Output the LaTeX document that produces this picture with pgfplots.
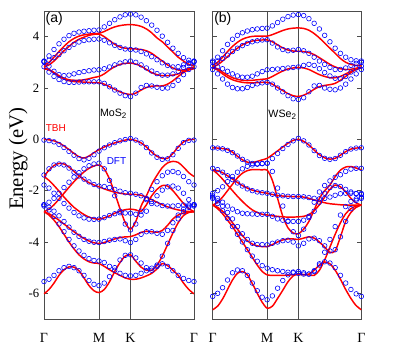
\documentclass[border=0pt]{standalone}
\usepackage{fontspec}
\setmainfont{Liberation Serif}
\setsansfont{Liberation Sans}
\usepackage{pgfplots}
\pgfplotsset{compat=1.18}
\usepackage{pgfplotstable}

% bands stored one per row (k-path coordinate u: Gamma=0, M=55, K=86.5, Gamma=150)
\pgfplotstableread{
name k0 k1 k2 k3 k4 k5 k6 k7 k8 k9 k10 k11 k12 k13 k14 k15 k16 k17 k18 k19 k20 k21 k22 k23 k24 k25 k26 k27 k28 k29
u 0 5 10 15 20 25 30 35 40 45 50 55 60.25 65.5 70.75 76 81.25 86.5 91.8 97.1 102.4 107.7 113 118.3 123.6 128.9 134.2 139.5 144.8 150
c1 2.75 2.70 2.60 2.45 2.35 2.28 2.25 2.24 2.23 2.22 2.21 2.20 2.15 2.05 1.95 1.85 1.78 1.75 1.80 1.92 2.02 2.07 2.08 2.08 2.15 2.28 2.45 2.60 2.70 2.75
c2 2.78 2.72 2.60 2.48 2.38 2.32 2.30 2.30 2.32 2.36 2.41 2.45 2.55 2.70 2.83 2.92 2.96 2.97 2.93 2.85 2.72 2.60 2.52 2.48 2.48 2.50 2.55 2.65 2.74 2.78
c3 2.82 2.90 3.05 3.25 3.45 3.62 3.78 3.90 3.98 4.05 4.09 4.10 4.00 3.85 3.70 3.60 3.55 3.53 3.52 3.50 3.45 3.35 3.20 3.05 2.90 2.78 2.70 2.70 2.76 2.82
c4 2.88 3.00 3.20 3.42 3.62 3.80 3.93 4.02 4.07 4.10 4.12 4.13 4.20 4.30 4.38 4.43 4.46 4.47 4.45 4.40 4.30 4.15 3.95 3.80 3.60 3.40 3.20 3.05 2.92 2.88
v1 0 -0.02 -0.06 -0.14 -0.26 -0.40 -0.55 -0.68 -0.73 -0.65 -0.52 -0.40 -0.30 -0.21 -0.14 -0.08 -0.03 0.00 -0.05 -0.14 -0.30 -0.50 -0.66 -0.74 -0.74 -0.55 -0.30 -0.10 -0.02 0
v2 -1.45 -1.20 -1.02 -0.94 -0.96 -1.08 -1.25 -1.42 -1.57 -1.69 -1.78 -1.85 -1.93 -2.00 -2.06 -2.10 -2.13 -2.14 -2.15 -2.18 -2.25 -2.35 -2.45 -2.55 -2.63 -2.70 -2.75 -2.79 -2.81 -2.82
v3 -2.82 -2.72 -2.55 -2.33 -2.10 -1.87 -1.65 -1.45 -1.27 -1.13 -1.04 -1.00 -1.15 -1.55 -2.10 -2.70 -3.25 -3.50 -3.20 -2.60 -2.20 -1.75 -1.40 -1.10 -0.92 -0.86 -0.90 -1.08 -1.30 -1.45
v4 -1.45 -1.60 -1.80 -2.02 -2.25 -2.46 -2.65 -2.80 -2.93 -3.03 -3.09 -3.11 -3.06 -2.98 -2.88 -2.80 -2.74 -2.72 -2.75 -2.80 -2.55 -2.20 -1.95 -1.80 -1.82 -2.00 -2.25 -2.50 -2.70 -2.82
v5 -2.82 -2.90 -3.02 -3.15 -3.30 -3.45 -3.60 -3.74 -3.86 -3.96 -4.03 -4.06 -4.02 -3.95 -3.88 -3.83 -3.80 -3.79 -3.72 -3.63 -3.58 -3.60 -3.62 -3.55 -3.35 -3.10 -2.95 -2.87 -2.83 -2.82
v6 -2.82 -2.95 -3.15 -3.40 -3.70 -4.00 -4.27 -4.50 -4.66 -4.77 -4.82 -4.84 -4.95 -5.08 -5.20 -5.30 -5.40 -5.45 -5.45 -5.40 -5.32 -5.22 -5.05 -4.84 -4.92 -5.10 -5.30 -5.60 -5.85 -6.02
v7 -6.02 -5.85 -5.60 -5.30 -5.08 -4.97 -4.98 -5.12 -5.40 -5.70 -5.90 -5.97 -5.85 -5.55 -5.15 -4.80 -4.55 -4.50 -4.75 -4.98 -5.10 -5.10 -4.90 -4.55 -4.10 -3.65 -3.25 -2.97 -2.85 -2.82
}\rawTA
\pgfplotstableread{
name k0 k1 k2 k3 k4 k5 k6 k7 k8 k9 k10 k11 k12 k13 k14 k15 k16 k17 k18 k19 k20 k21 k22 k23 k24 k25 k26 k27 k28 k29
u 0 5 10 15 20 25 30 35 40 45 50 55 60.25 65.5 70.75 76 81.25 86.5 91.8 97.1 102.4 107.7 113 118.3 123.6 128.9 134.2 139.5 144.8 150
c1 2.83 2.62 2.45 2.33 2.25 2.22 2.22 2.23 2.24 2.24 2.24 2.24 2.18 2.05 1.92 1.80 1.70 1.66 1.80 2.02 2.10 2.08 2.03 1.99 2.00 2.10 2.30 2.52 2.72 2.83
c2 3.02 2.85 2.65 2.52 2.48 2.50 2.55 2.60 2.64 2.67 2.70 2.71 2.75 2.82 2.90 2.97 3.02 3.05 3.00 2.90 2.78 2.66 2.56 2.50 2.50 2.55 2.65 2.80 2.95 3.02
c3 3.02 3.08 3.18 3.30 3.45 3.58 3.70 3.79 3.85 3.88 3.90 3.91 3.86 3.76 3.66 3.58 3.52 3.50 3.48 3.42 3.33 3.22 3.10 2.98 2.88 2.82 2.83 2.90 2.98 3.02
c4 3.05 3.25 3.50 3.72 3.90 4.04 4.13 4.18 4.21 4.23 4.25 4.26 4.38 4.52 4.66 4.77 4.85 4.88 4.85 4.76 4.62 4.45 4.25 4.02 3.78 3.55 3.35 3.18 3.08 3.05
v1 -0.03 -0.05 -0.10 -0.20 -0.32 -0.47 -0.62 -0.75 -0.80 -0.74 -0.60 -0.46 -0.33 -0.22 -0.13 -0.06 -0.01 0.03 -0.03 -0.14 -0.32 -0.53 -0.70 -0.78 -0.76 -0.60 -0.35 -0.13 -0.04 -0.03
v2 -1.39 -1.15 -1.00 -0.96 -1.00 -1.12 -1.28 -1.43 -1.55 -1.66 -1.76 -1.82 -1.84 -1.88 -1.95 -2.02 -2.08 -2.10 -2.14 -2.20 -2.30 -2.42 -2.52 -2.58 -2.60 -2.60 -2.58 -2.56 -2.55 -2.55
v3 -2.55 -2.45 -2.30 -2.10 -1.88 -1.67 -1.47 -1.30 -1.15 -1.03 -0.96 -0.93 -1.15 -1.60 -2.20 -2.80 -3.30 -3.53 -3.30 -2.80 -2.35 -1.95 -1.65 -1.42 -1.28 -1.25 -1.30 -1.45 -1.65 -1.78
v4 -1.78 -1.90 -2.10 -2.30 -2.50 -2.68 -2.85 -2.98 -3.06 -3.11 -3.12 -3.11 -3.05 -2.97 -2.90 -2.86 -2.87 -2.88 -2.92 -2.95 -2.80 -2.50 -2.20 -1.98 -1.85 -1.82 -1.90 -2.10 -2.35 -2.55
v5 -2.55 -2.65 -2.80 -2.98 -3.20 -3.42 -3.62 -3.78 -3.90 -3.97 -4.01 -4.02 -3.98 -3.93 -3.90 -3.88 -3.95 -4.02 -3.90 -3.70 -3.60 -3.60 -3.66 -3.70 -3.55 -3.25 -2.95 -2.72 -2.60 -2.55
v6 -2.60 -2.75 -3.00 -3.30 -3.60 -3.90 -4.15 -4.35 -4.52 -4.65 -4.72 -4.74 -4.80 -4.95 -5.10 -5.22 -5.30 -5.32 -5.30 -5.22 -5.12 -5.02 -4.90 -4.85 -4.95 -5.12 -5.30 -5.42 -5.50 -5.54
v7 -5.54 -5.45 -5.30 -5.12 -5.00 -4.95 -5.00 -5.12 -5.30 -5.50 -5.65 -5.70 -5.60 -5.35 -5.00 -4.70 -4.52 -4.50 -4.62 -4.82 -5.00 -5.10 -4.95 -4.55 -4.05 -3.55 -3.10 -2.82 -2.65 -2.60
}\rawDA
\pgfplotstableread{
name k0 k1 k2 k3 k4 k5 k6 k7 k8 k9 k10 k11 k12 k13 k14 k15 k16 k17 k18 k19 k20 k21 k22 k23 k24 k25 k26 k27 k28 k29
u 0 5 10 15 20 25 30 35 40 45 50 55 60.25 65.5 70.75 76 81.25 86.5 91.8 97.1 102.4 107.7 113 118.3 123.6 128.9 134.2 139.5 144.8 150
c1 2.78 2.70 2.55 2.42 2.32 2.26 2.22 2.20 2.20 2.21 2.22 2.22 2.15 2.02 1.90 1.78 1.70 1.67 1.72 1.82 1.95 2.05 2.10 2.13 2.18 2.30 2.45 2.60 2.72 2.78
c2 2.80 2.75 2.62 2.50 2.40 2.34 2.30 2.29 2.30 2.32 2.34 2.36 2.45 2.56 2.66 2.74 2.78 2.80 2.78 2.72 2.62 2.52 2.45 2.40 2.40 2.45 2.55 2.65 2.74 2.80
c3 2.82 2.90 3.05 3.22 3.40 3.55 3.68 3.77 3.83 3.86 3.87 3.87 3.80 3.68 3.56 3.48 3.44 3.43 3.42 3.38 3.30 3.18 3.05 2.92 2.82 2.75 2.72 2.73 2.77 2.82
c4 2.88 3.00 3.20 3.42 3.62 3.78 3.90 3.97 4.01 4.02 4.02 4.02 4.08 4.16 4.24 4.30 4.33 4.34 4.32 4.25 4.12 3.95 3.75 3.55 3.35 3.15 3.00 2.92 2.88 2.88
v1 -0.33 -0.34 -0.36 -0.40 -0.50 -0.66 -0.80 -0.89 -0.90 -0.86 -0.80 -0.74 -0.60 -0.45 -0.30 -0.15 -0.04 0.00 -0.08 -0.22 -0.42 -0.60 -0.72 -0.77 -0.74 -0.62 -0.48 -0.38 -0.34 -0.33
v2 -1.19 -1.22 -1.30 -1.42 -1.55 -1.68 -1.80 -1.90 -1.98 -2.03 -2.07 -2.10 -2.15 -2.19 -2.21 -2.22 -2.23 -2.23 -2.25 -2.30 -2.36 -2.42 -2.47 -2.51 -2.53 -2.55 -2.56 -2.56 -2.56 -2.56
v3 -2.56 -2.45 -2.25 -2.00 -1.75 -1.50 -1.32 -1.22 -1.18 -1.18 -1.19 -1.20 -1.60 -2.30 -3.00 -3.45 -3.65 -3.68 -3.50 -3.20 -2.75 -2.30 -2.00 -1.78 -1.45 -1.20 -1.08 -1.06 -1.12 -1.19
v4 -1.19 -1.35 -1.55 -1.78 -2.00 -2.22 -2.42 -2.60 -2.75 -2.85 -2.92 -2.95 -2.98 -3.00 -3.02 -3.03 -3.03 -3.02 -3.00 -2.93 -2.78 -2.55 -2.25 -1.95 -1.78 -1.85 -2.05 -2.30 -2.48 -2.56
v5 -2.56 -2.65 -2.80 -3.00 -3.25 -3.50 -3.75 -3.95 -4.08 -4.15 -4.18 -4.18 -4.10 -4.00 -3.92 -3.88 -3.88 -3.90 -3.85 -3.80 -3.85 -4.00 -4.20 -4.40 -4.35 -3.80 -3.20 -2.85 -2.65 -2.56
v6 -2.56 -2.70 -2.90 -3.15 -3.40 -3.70 -4.00 -4.30 -4.60 -4.90 -5.15 -5.28 -5.30 -5.30 -5.30 -5.29 -5.28 -5.27 -5.27 -5.28 -5.30 -5.10 -4.70 -4.20 -3.70 -3.25 -2.90 -2.70 -2.60 -2.56
v7 -6.64 -6.50 -6.22 -5.85 -5.48 -5.22 -5.15 -5.28 -5.62 -6.00 -6.35 -6.58 -6.50 -6.20 -5.88 -5.55 -5.32 -5.25 -5.27 -5.25 -5.10 -4.90 -4.78 -4.85 -5.10 -5.45 -5.85 -6.20 -6.48 -6.64
}\rawTB
\pgfplotstableread{
name k0 k1 k2 k3 k4 k5 k6 k7 k8 k9 k10 k11 k12 k13 k14 k15 k16 k17 k18 k19 k20 k21 k22 k23 k24 k25 k26 k27 k28 k29
u 0 5 10 15 20 25 30 35 40 45 50 55 60.25 65.5 70.75 76 81.25 86.5 91.8 97.1 102.4 107.7 113 118.3 123.6 128.9 134.2 139.5 144.8 150
c1 2.72 2.55 2.35 2.15 2.02 1.97 1.97 2.02 2.10 2.16 2.20 2.22 2.15 2.00 1.85 1.70 1.58 1.55 1.62 1.85 2.08 2.10 2.00 1.95 1.93 2.00 2.15 2.35 2.55 2.72
c2 2.85 2.82 2.75 2.65 2.55 2.47 2.42 2.42 2.46 2.55 2.64 2.71 2.72 2.74 2.76 2.78 2.80 2.82 2.88 2.92 2.88 2.75 2.60 2.47 2.38 2.36 2.45 2.62 2.78 2.85
c3 3.00 3.05 3.15 3.28 3.42 3.55 3.65 3.74 3.80 3.84 3.87 3.88 3.75 3.60 3.50 3.45 3.47 3.50 3.45 3.35 3.20 3.05 2.92 2.80 2.72 2.72 2.78 2.88 2.96 3.00
c4 3.05 3.20 3.45 3.70 3.90 4.05 4.15 4.22 4.27 4.30 4.32 4.33 4.42 4.55 4.68 4.78 4.84 4.86 4.82 4.70 4.52 4.30 4.05 3.80 3.55 3.35 3.20 3.10 3.06 3.05
v1 -0.33 -0.34 -0.37 -0.43 -0.52 -0.65 -0.78 -0.88 -0.94 -0.95 -0.94 -0.93 -0.75 -0.55 -0.36 -0.20 -0.06 0.04 -0.06 -0.22 -0.44 -0.63 -0.74 -0.78 -0.75 -0.62 -0.48 -0.38 -0.34 -0.33
v2 -1.13 -1.18 -1.28 -1.42 -1.57 -1.70 -1.82 -1.93 -2.00 -2.05 -2.08 -2.10 -2.14 -2.18 -2.20 -2.22 -2.23 -2.23 -2.24 -2.27 -2.30 -2.32 -2.30 -2.25 -2.18 -2.12 -2.10 -2.10 -2.11 -2.11
v3 -2.11 -2.00 -1.85 -1.65 -1.45 -1.28 -1.15 -1.05 -1.00 -0.97 -0.95 -0.93 -1.25 -1.90 -2.60 -3.20 -3.60 -3.75 -3.50 -3.00 -2.45 -2.05 -1.80 -1.62 -1.48 -1.38 -1.25 -1.16 -1.13 -1.13
v4 -2.20 -2.30 -2.45 -2.60 -2.72 -2.82 -2.88 -2.90 -2.91 -2.92 -2.92 -2.92 -3.00 -3.10 -3.15 -3.18 -3.20 -3.20 -3.15 -3.05 -2.80 -2.45 -2.10 -1.88 -1.80 -1.84 -1.95 -2.05 -2.12 -2.15
v5 -2.25 -2.40 -2.60 -2.85 -3.10 -3.40 -3.68 -3.90 -4.05 -4.10 -4.10 -4.11 -4.05 -4.00 -3.95 -3.93 -4.00 -4.15 -4.05 -3.88 -3.85 -3.95 -4.15 -4.35 -4.30 -3.80 -3.20 -2.70 -2.38 -2.25
v6 -2.30 -2.50 -2.78 -3.08 -3.40 -3.70 -4.00 -4.30 -4.55 -4.75 -4.92 -5.02 -5.08 -5.12 -5.15 -5.18 -5.20 -5.22 -5.25 -5.25 -5.15 -4.85 -4.40 -3.90 -3.40 -2.95 -2.62 -2.42 -2.32 -2.30
v7 -6.12 -6.00 -5.78 -5.48 -5.20 -5.09 -5.12 -5.30 -5.60 -5.90 -6.15 -6.25 -6.10 -5.80 -5.50 -5.28 -5.17 -5.15 -5.20 -5.25 -5.12 -4.90 -4.77 -4.82 -5.00 -5.30 -5.60 -5.85 -6.02 -6.12
}\rawDB
\pgfplotstabletranspose[colnames from=name]\tbhA\rawTA
\pgfplotstabletranspose[colnames from=name]\dftA\rawDA
\pgfplotstabletranspose[colnames from=name]\tbhB\rawTB
\pgfplotstabletranspose[colnames from=name]\dftB\rawDB

\pgfplotsset{
  bands/.style={
    scale only axis, height=231pt,
    xmin=0, xmax=150, ymin=-7, ymax=5,
    xtick={0,55,86.5,150}, xticklabels={Γ,M,K,Γ},
    ytick={-6,-4,-2,0,2,4},
    xmajorgrids, major x grid style={black!70, line width=0.7pt},
    axis line style={black!70, line width=0.6pt},
    ytick style={black!70, line width=0.5pt}, major tick length=3pt,
    xtick style={draw=none},
    /pgf/number format/assume math mode=true,
    yticklabel style={font=\fontsize{9.5}{11}\selectfont},
    xticklabel style={font=\fontsize{10.5}{12}\selectfont, yshift=-7.5pt},
  },
  tbh/.style={red, line width=1.1pt, smooth, tension=0.5, mark=none},
  dft/.style={blue, only marks, mark=o, mark size=1.75pt, mark options={line width=0.45pt}},
}

\begin{document}
\begin{tikzpicture}
\useasboundingbox (0,0) rectangle (299.25pt,269.25pt);

\begin{axis}[bands, width=112.5pt, at={(33pt,30pt)}, anchor=south west,
  ylabel={Energy (eV)},
  ylabel style={font=\fontsize{15.5}{17}\selectfont, at={(axis description cs:-0.172,0.52)}, anchor=center}]
\pgfplotsinvokeforeach{c1,c2,c3,c4,v1,v2,v3,v4,v5,v6,v7}{
  \addplot[tbh] table[x=u, y=#1] {\tbhA};
}
\pgfplotsinvokeforeach{c1,c2,c3,c4,v1,v2,v3,v4,v5,v6,v7}{
  \addplot[dft] table[x=u, y=#1] {\dftA};
}
\node[anchor=north west, inner sep=1pt, font=\sffamily\fontsize{10.5}{12}\selectfont] at (rel axis cs:0,1) {(a)};
\node[anchor=west, inner sep=0pt, red, font=\sffamily\fontsize{7.5}{9}\selectfont] at (axis cs:1.5,0.43) {TBH};
\node[anchor=west, inner sep=0pt, blue, font=\sffamily\fontsize{7.5}{9}\selectfont] at (axis cs:62.5,-0.84) {DFT};
\node[anchor=west, inner sep=0pt, font=\sffamily\fontsize{8}{10}\selectfont] at (axis cs:55.8,1.0) {MoS\textsubscript{2}};
\end{axis}

\begin{axis}[bands, width=111.5pt, at={(159.5pt,30pt)}, anchor=south west,
  yticklabels={}]
\pgfplotsinvokeforeach{c1,c2,c3,c4,v1,v2,v3,v4,v5,v6,v7}{
  \addplot[tbh] table[x=u, y=#1] {\tbhB};
}
\pgfplotsinvokeforeach{c1,c2,c3,c4,v1,v2,v3,v4,v5,v6,v7}{
  \addplot[dft] table[x=u, y=#1] {\dftB};
}
\node[anchor=north west, inner sep=1pt, font=\sffamily\fontsize{10.5}{12}\selectfont] at (rel axis cs:0,1) {(b)};
\node[anchor=west, inner sep=0pt, font=\sffamily\fontsize{8}{10}\selectfont] at (axis cs:56,0.95) {WSe\textsubscript{2}};
\end{axis}
\end{tikzpicture}
\end{document}
